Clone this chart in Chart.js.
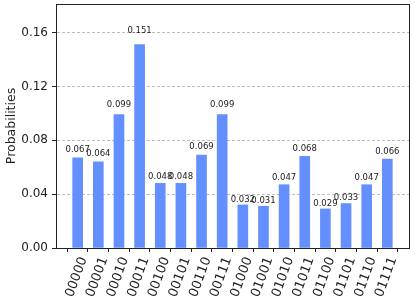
<!DOCTYPE html>
<html>
<head>
<meta charset="utf-8">
<script src="https://cdn.jsdelivr.net/npm/chart.js@4"></script>
<style>
    html, body { margin: 0; padding: 0; background: #fff; }
    #wrap { width: 415px; height: 301px; position: relative; }
</style>
</head>
<body>
<div id="wrap"><canvas id="histChart"></canvas></div>
<script>
// Measured outcomes and their probabilities
const states = ['00000', '00001', '00010', '00011', '00100', '00101', '00110', '00111',
    '01000', '01001', '01010', '01011', '01100', '01101', '01110', '01111'];
const probabilities = [0.067, 0.064, 0.099, 0.151, 0.048, 0.048, 0.069, 0.099,
    0.032, 0.031, 0.047, 0.068, 0.029, 0.033, 0.047, 0.066];
const yTicks = [0.00, 0.04, 0.08, 0.12, 0.16];

const FONT = 'DejaVu Sans';
const barColor = '#648FFF';
const frameColor = '#222';

// value labels above bars + box round the plot area
const barLabels = {
    id: 'barLabels',
    afterDatasetsDraw(chart) {
        const ctx = chart.ctx;
        const meta = chart.getDatasetMeta(0);
        const yScale = chart.scales.y;
        ctx.save();
        ctx.font = `8.5px "${FONT}"`;
        ctx.fillStyle = '#222';
        ctx.textAlign = 'center';
        ctx.textBaseline = 'bottom';
        meta.data.forEach((bar, i) => {
            const v = probabilities[i];
            ctx.fillText(v.toFixed(3), bar.x, yScale.getPixelForValue(v * 1.05) + 1);
        });
        ctx.restore();
    },
    afterDraw(chart) {
        const a = chart.chartArea;
        const ctx = chart.ctx;
        ctx.save();
        ctx.strokeStyle = frameColor;
        ctx.lineWidth = 1;
        ctx.strokeRect(Math.round(a.left) + 0.5, Math.round(a.top) + 0.5,
            Math.round(a.right - a.left), Math.round(a.bottom - a.top));
        ctx.restore();
    }
};

const n = states.length;
const xMin = -0.25 - 0.05 * n;
const xMax = n - 0.75 + 0.05 * n;

new Chart(document.getElementById('histChart').getContext('2d'), {
    type: 'bar',
    data: {
        datasets: [{
            data: probabilities.map((p, i) => ({ x: i, y: p })),
            backgroundColor: barColor,
            borderWidth: 0,
            barThickness: 10
        }]
    },
    options: {
        responsive: true,
        maintainAspectRatio: false,
        animation: false,
        layout: { padding: { top: 4, right: 6, left: 0, bottom: 0 } },
        plugins: {
            legend: { display: false },
            tooltip: { enabled: false }
        },
        scales: {
            x: {
                type: 'linear',
                offset: false,
                min: xMin,
                max: xMax,
                afterBuildTicks: scale => {
                    scale.ticks = states.map((_, i) => ({ value: i }));
                },
                afterFit: scale => {
                    scale.height = 53;
                    scale.paddingLeft = 0;
                    scale.paddingRight = 0;
                },
                ticks: {
                    autoSkip: false,
                    minRotation: 70,
                    maxRotation: 70,
                    padding: 3,
                    labelOffset: 6,
                    color: '#222',
                    font: { family: FONT, size: 13 },
                    callback: v => states[v]
                },
                grid: {
                    drawOnChartArea: false,
                    tickLength: 4,
                    tickColor: frameColor
                },
                border: { color: frameColor }
            },
            y: {
                min: 0,
                max: Math.max(...probabilities) * 1.2,
                afterBuildTicks: scale => {
                    scale.ticks = yTicks.map(v => ({ value: v }));
                },
                afterFit: scale => {
                    scale.width = 56;
                    scale.paddingTop = 0;
                    scale.paddingBottom = 0;
                },
                ticks: {
                    includeBounds: false,
                    padding: 4,
                    color: '#222',
                    font: { family: FONT, size: 12 },
                    callback: v => v.toFixed(2)
                },
                grid: {
                    color: '#bdbdbd',
                    tickLength: 4,
                    tickColor: frameColor,
                    tickBorderDash: [1, 0]
                },
                border: { color: frameColor, dash: [3, 2] },
                title: {
                    display: true,
                    text: 'Probabilities',
                    color: '#222',
                    font: { family: FONT, size: 12.5 },
                    padding: { top: 4, bottom: 2 }
                }
            }
        }
    },
    plugins: [barLabels]
});
</script>
</body>
</html>
